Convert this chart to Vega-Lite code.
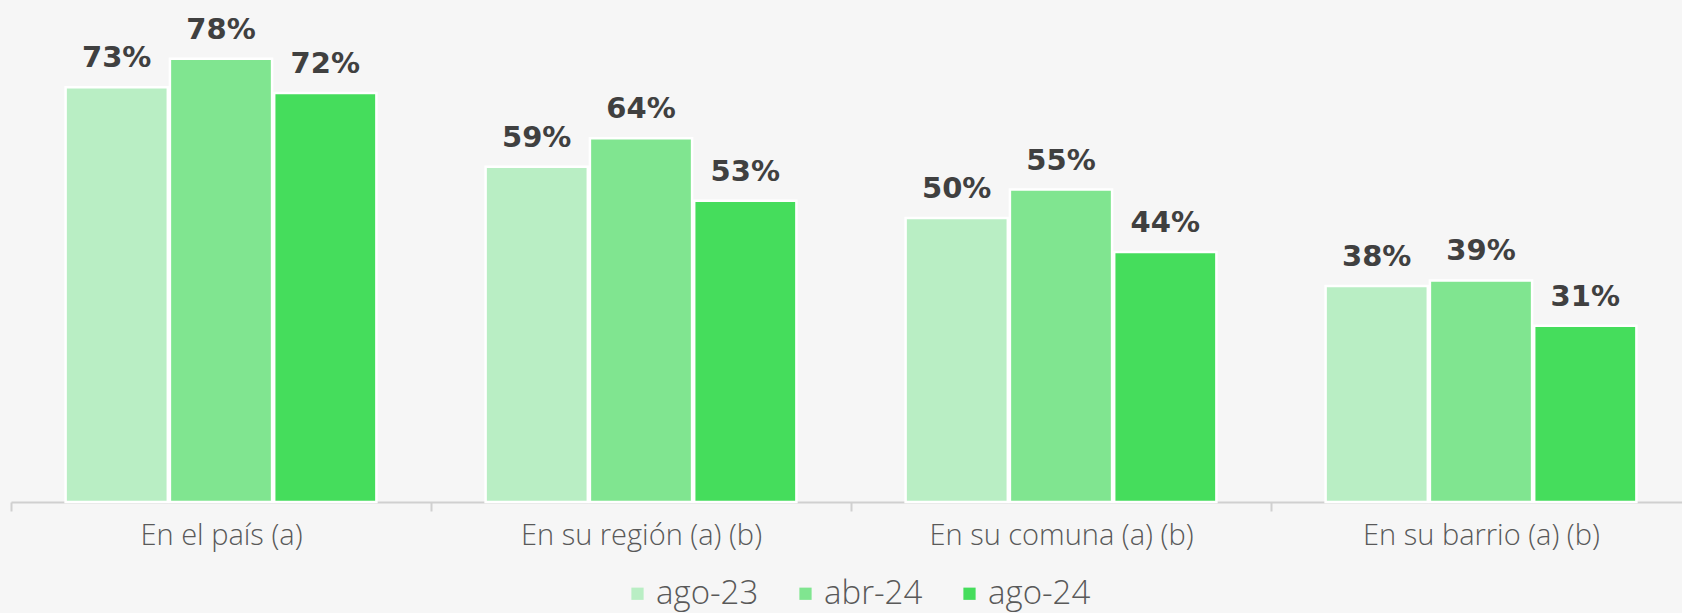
{
  "$schema": "https://vega.github.io/schema/vega-lite/v6.json",
  "autosize": {"type": "none"},
  "width": 1671,
  "height": 500,
  "padding": {"left": 11, "top": 2, "right": 0, "bottom": 111},
  "background": "#f6f6f6",
  "config": {"view": {"stroke": null}},
  "data": {"values": [
    {"ambito": "En el país (a)", "serie": "ago-23", "valor": 0.73},
    {"ambito": "En el país (a)", "serie": "abr-24", "valor": 0.78},
    {"ambito": "En el país (a)", "serie": "ago-24", "valor": 0.72},
    {"ambito": "En su región (a) (b)", "serie": "ago-23", "valor": 0.59},
    {"ambito": "En su región (a) (b)", "serie": "abr-24", "valor": 0.64},
    {"ambito": "En su región (a) (b)", "serie": "ago-24", "valor": 0.53},
    {"ambito": "En su comuna (a) (b)", "serie": "ago-23", "valor": 0.50},
    {"ambito": "En su comuna (a) (b)", "serie": "abr-24", "valor": 0.55},
    {"ambito": "En su comuna (a) (b)", "serie": "ago-24", "valor": 0.44},
    {"ambito": "En su barrio (a) (b)", "serie": "ago-23", "valor": 0.38},
    {"ambito": "En su barrio (a) (b)", "serie": "abr-24", "valor": 0.39},
    {"ambito": "En su barrio (a) (b)", "serie": "ago-24", "valor": 0.31}
  ]},
  "encoding": {
    "x": {
      "field": "ambito", "type": "nominal", "sort": null,
      "scale": {"range": [0, 1680], "paddingInner": 0.26, "paddingOuter": 0.13},
      "axis": {
        "title": null, "labelAngle": 0, "grid": false,
        "domainColor": "#d0d0d0", "domainWidth": 2,
        "tickColor": "#d0d0d0", "tickWidth": 2, "tickSize": 9,
        "tickOffset": -210, "labelOffset": 210, "labelLimit": 0,
        "labelFont": "Open Sans", "labelFontWeight": 300, "labelFontSize": 29, "labelColor": "#595959",
        "labelPadding": 10
      }
    },
    "xOffset": {"field": "serie", "type": "nominal", "sort": ["ago-23", "abr-24", "ago-24"], "scale": {"paddingInner": 0.02}},
    "y": {
      "field": "valor", "type": "quantitative",
      "scale": {"domain": [0, 0.88], "nice": false},
      "axis": null
    }
  },
  "layer": [
    {
      "mark": {"type": "bar", "stroke": "white", "strokeWidth": 2.5},
      "encoding": {
        "color": {
          "field": "serie", "type": "nominal",
          "scale": {"domain": ["ago-23", "abr-24", "ago-24"], "range": ["#b9eec4", "#80e590", "#45dd5c"]},
          "legend": {
            "title": null, "orient": "none", "direction": "horizontal",
            "legendX": 610, "legendY": 575,
            "symbolType": "square", "symbolSize": 150, "symbolStrokeWidth": 0,
            "labelFont": "Open Sans", "labelFontWeight": 300, "labelFontSize": 33, "labelColor": "#595959",
            "labelOffset": 2, "columnPadding": 30
          }
        }
      }
    },
    {
      "mark": {"type": "text", "dy": -20, "baseline": "alphabetic", "font": "DejaVu Sans", "fontWeight": "bold", "fontSize": 29, "color": "#404040"},
      "encoding": {
        "text": {"field": "valor", "type": "quantitative", "format": ".0%"}
      }
    }
  ]
}
